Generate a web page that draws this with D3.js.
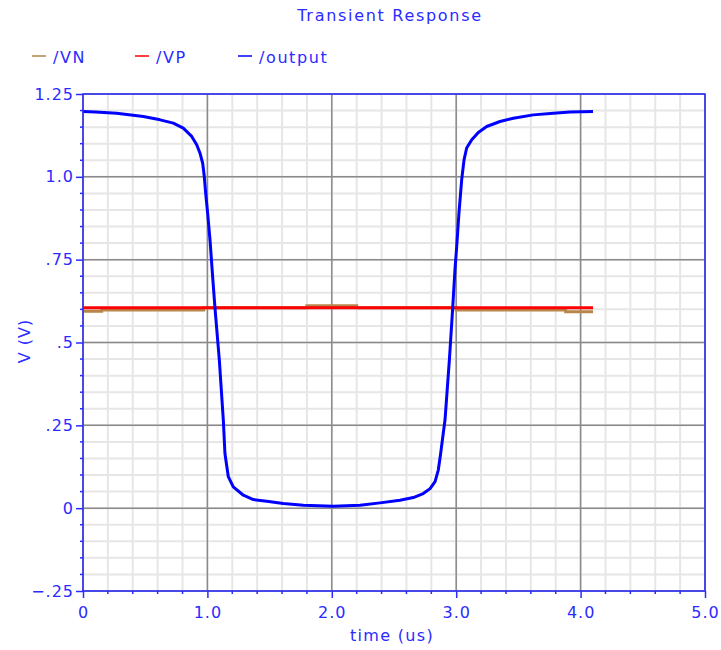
<!DOCTYPE html>
<html>
<head>
<meta charset="utf-8">
<script src="https://cdn.jsdelivr.net/npm/d3@7"></script>
<style>
    body { margin: 0; background: #fff; }
    svg text { font-family: "DejaVu Sans", sans-serif; fill: #2b2bff; letter-spacing: 1px; }
</style>
</head>
<body>
<div id="chart"></div>
<script>
// time in us, voltage in V
const outputTime = [0, 0.1, 0.27, 0.485, 0.62, 0.726, 0.806, 0.874, 0.914, 0.94, 0.962, 0.975,
    0.986, 1.002, 1.021, 1.042, 1.061, 1.096, 1.128, 1.141, 1.168, 1.208, 1.289, 1.369, 1.477,
    1.61, 1.771, 2.01, 2.227, 2.387, 2.548, 2.655, 2.735, 2.79, 2.83, 2.856, 2.875, 2.896, 2.91,
    2.945, 2.972, 2.99, 3.004, 3.022, 3.044, 3.063, 3.084, 3.125, 3.178, 3.245, 3.352, 3.459,
    3.62, 3.781, 3.915, 4.1];
const outputVolts = [1.197, 1.196, 1.192, 1.182, 1.172, 1.162, 1.147, 1.122, 1.097, 1.072, 1.041, 1.001,
    0.951, 0.890, 0.810, 0.699, 0.604, 0.447, 0.266, 0.165, 0.095, 0.064, 0.039, 0.026, 0.021,
    0.014, 0.009, 0.006, 0.009, 0.016, 0.024, 0.032, 0.044, 0.059, 0.080, 0.115, 0.165, 0.226, 0.266,
    0.447, 0.605, 0.720, 0.789, 0.890, 0.991, 1.051, 1.087, 1.112, 1.134, 1.152, 1.167, 1.177,
    1.187, 1.192, 1.196, 1.197];

const vpTime = [0, 4.1];
const vpVolts = [0.605, 0.605];

const vnTime = [0, 0.15, 0.97, 1.8, 2.2, 3.0, 3.88, 4.1];
const vnVolts = [0.594, 0.598, 0.605, 0.611, 0.605, 0.598, 0.593, 0.593];

const seriesNames = ['/VN', '/VP', '/output'];
const seriesColors = ['#b8864b', '#ff0000', '#0000ff'];

const xTicks = [0, 1, 2, 3, 4, 5];
const xTickLabels = ['0', '1.0', '2.0', '3.0', '4.0', '5.0'];
const yTicks = [-0.25, 0, 0.25, 0.5, 0.75, 1.0, 1.25];
const yTickLabels = ['\u2212.25', '0', '.25', '.5', '.75', '1.0', '1.25'];

class TransientChart {
    constructor() {
        this.width = 721;
        this.height = 650;
        this.axisColor = '#2b2bff';
        this.x = d3.scaleLinear().domain([0, 5]).range([83, 705]);
        this.y = d3.scaleLinear().domain([-0.25, 1.25]).range([591, 94]);

        this.svg = d3.select('#chart').append('svg')
            .attr('width', this.width)
            .attr('height', this.height);

        this.drawGrid();
        this.drawSeries();
        this.drawAxes();
        this.drawLabels();
    }

    drawGrid() {
        const x = this.x, y = this.y;
        const g = this.svg.append('g');
        const xMinor = d3.range(0, 5.001, 0.2);
        const yMinor = d3.range(-0.25, 1.2501, 0.05);

        // light minor grid
        g.selectAll('.vminor').data(xMinor).enter().append('line')
            .attr('x1', d => x(d)).attr('x2', d => x(d))
            .attr('y1', y(1.25)).attr('y2', y(-0.25))
            .attr('stroke', '#e6e6e6').attr('stroke-width', 2);
        g.selectAll('.hminor').data(yMinor).enter().append('line')
            .attr('x1', x(0)).attr('x2', x(5))
            .attr('y1', d => y(d)).attr('y2', d => y(d))
            .attr('stroke', '#e6e6e6').attr('stroke-width', 2);

        // darker major grid
        g.selectAll('.vmajor').data(xTicks).enter().append('line')
            .attr('x1', d => x(d)).attr('x2', d => x(d))
            .attr('y1', y(1.25)).attr('y2', y(-0.25))
            .attr('stroke', '#8a8a8a').attr('stroke-width', 1.5);
        g.selectAll('.hmajor').data(yTicks).enter().append('line')
            .attr('x1', x(0)).attr('x2', x(5))
            .attr('y1', d => y(d)).attr('y2', d => y(d))
            .attr('stroke', '#8a8a8a').attr('stroke-width', 1.5);
    }

    drawSeries() {
        const x = this.x, y = this.y;
        const g = this.svg.append('g');

        const vnData = vnTime.map((t, i) => [t, vnVolts[i]]);
        const vpData = vpTime.map((t, i) => [t, vpVolts[i]]);
        const outData = outputTime.map((t, i) => [t, outputVolts[i]]);

        const stepLine = d3.line().x(d => x(d[0])).y(d => y(d[1])).curve(d3.curveStepAfter);
        const line = d3.line().x(d => x(d[0])).y(d => y(d[1]));

        g.append('path').attr('d', stepLine(vnData))
            .attr('fill', 'none').attr('stroke', seriesColors[0]).attr('stroke-width', 3);
        g.append('path').attr('d', line(vpData))
            .attr('fill', 'none').attr('stroke', seriesColors[1]).attr('stroke-width', 3);
        g.append('path').attr('d', line(outData))
            .attr('fill', 'none').attr('stroke', seriesColors[2]).attr('stroke-width', 3)
            .attr('stroke-linejoin', 'round');
    }

    drawAxes() {
        const x = this.x, y = this.y;
        const c = this.axisColor;

        const xAxis = d3.axisBottom(x)
            .tickValues(xTicks)
            .tickFormat((d, i) => xTickLabels[i])
            .tickSize(7).tickPadding(9);
        const xg = this.svg.append('g').attr('transform', `translate(0,${y(-0.25)})`).call(xAxis);

        const yAxis = d3.axisLeft(y)
            .tickValues(yTicks)
            .tickFormat((d, i) => yTickLabels[i])
            .tickSize(7).tickPadding(2);
        const yg = this.svg.append('g').attr('transform', `translate(${x(0)},0)`).call(yAxis);

        [xg, yg].forEach(g => {
            g.select('.domain').remove();
            g.selectAll('line').attr('stroke', c).attr('stroke-width', 1.5);
            g.selectAll('text').attr('font-size', '16px').attr('fill', c)
                .attr('font-family', '"DejaVu Sans", sans-serif');
        });

        // minor ticks
        const xMinor = d3.range(0.2, 5, 0.2).filter(d => Math.abs(d - Math.round(d)) > 0.01);
        this.svg.append('g').selectAll('line').data(xMinor).enter().append('line')
            .attr('x1', d => x(d)).attr('x2', d => x(d))
            .attr('y1', y(-0.25)).attr('y2', y(-0.25) + 3)
            .attr('stroke', c).attr('stroke-width', 1.5);
        const yMinor = d3.range(-0.2, 1.25, 0.05).filter(d => Math.abs(d / 0.25 - Math.round(d / 0.25)) > 0.01);
        this.svg.append('g').selectAll('line').data(yMinor).enter().append('line')
            .attr('x1', x(0) - 3).attr('x2', x(0))
            .attr('y1', d => y(d)).attr('y2', d => y(d))
            .attr('stroke', c).attr('stroke-width', 1.5);

        // frame
        this.svg.append('rect')
            .attr('x', x(0)).attr('y', y(1.25))
            .attr('width', x(5) - x(0)).attr('height', y(-0.25) - y(1.25))
            .attr('fill', 'none').attr('stroke', c).attr('stroke-width', 1.5);
    }

    drawLabels() {
        const svg = this.svg;

        svg.append('text')
            .attr('x', 390).attr('y', 21)
            .attr('text-anchor', 'middle')
            .attr('font-size', '16px')
            .style('letter-spacing', '1.7px')
            .text('Transient Response');

        svg.append('text')
            .attr('x', 392).attr('y', 641)
            .attr('text-anchor', 'middle')
            .attr('font-size', '16px')
            .style('letter-spacing', '1.3px')
            .text('time (us)');

        svg.append('text')
            .attr('transform', 'translate(30,341) rotate(-90)')
            .attr('text-anchor', 'middle')
            .attr('font-size', '16px')
            .text('V (V)');

        // legend
        const legendX = [32, 135, 238];
        const legend = svg.append('g');
        seriesNames.forEach((name, i) => {
            legend.append('line')
                .attr('x1', legendX[i]).attr('x2', legendX[i] + 14)
                .attr('y1', 56).attr('y2', 56)
                .attr('stroke', seriesColors[i]).attr('stroke-width', 1.5);
            legend.append('text')
                .attr('x', legendX[i] + 21).attr('y', 63)
                .attr('font-size', '16px')
                .style('letter-spacing', '1.6px')
                .text(name);
        });
    }
}

new TransientChart();
</script>
</body>
</html>
